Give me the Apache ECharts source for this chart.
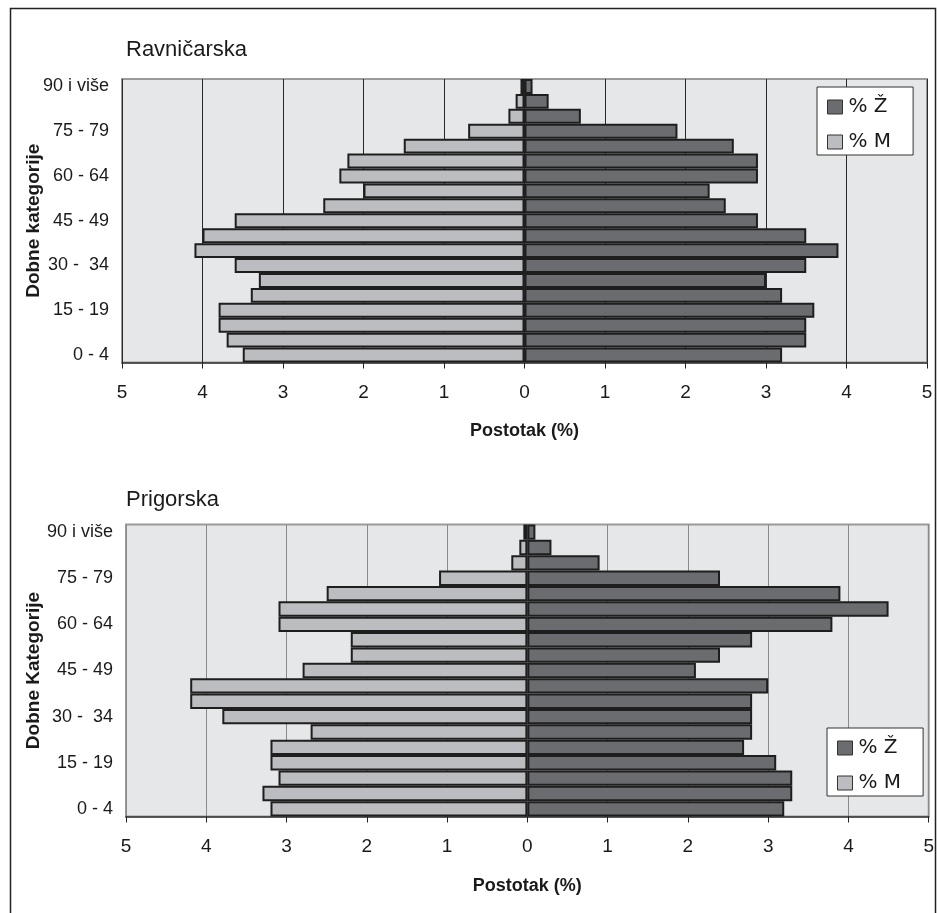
<!DOCTYPE html>
<html>
<head>
<meta charset="utf-8">
<script src="https://cdn.jsdelivr.net/npm/echarts@6/dist/echarts.min.js"></script>
<style>
html,body{margin:0;padding:0;background:#fff;}
#chart{width:937px;height:913px;}
</style>
</head>
<body>
<div id="chart"></div>
<script>
const categories = ["0 - 4","5 - 9","10 - 14","15 - 19","20 - 24","25 - 29","30 -  34","35 - 39","40 - 44","45 - 49","50 - 54","55 - 59","60 - 64","65 - 69","70 - 74","75 - 79","80 - 84","85 - 89","90 i više"];
const xTicks = [5,4,3,2,1,0,1,2,3,4,5];

// Ravničarska
const ravMen   = [3.5,3.7,3.8,3.8,3.4,3.3,3.6,4.1,4.0,3.6,2.5,2.0,2.3,2.2,1.5,0.7,0.2,0.11,0.05];
const ravWomen = [3.2,3.5,3.5,3.6,3.2,3.0,3.5,3.9,3.5,2.9,2.5,2.3,2.9,2.9,2.6,1.9,0.7,0.3,0.1];
// Prigorska
const priMen   = [3.2,3.3,3.1,3.2,3.2,2.7,3.8,4.2,4.2,2.8,2.2,2.2,3.1,3.1,2.5,1.1,0.2,0.1,0.05];
const priWomen = [3.2,3.3,3.3,3.1,2.7,2.8,2.8,2.8,3.0,2.1,2.4,2.8,3.8,4.5,3.9,2.4,0.9,0.3,0.1];

const titles = ["Ravničarska","Prigorska"];
const yNames = ["Dobne kategorije","Dobne Kategorije"];
const xName = "Postotak (%)";
const seriesNames = ["% Ž","% M"];

const FONT = "'Liberation Sans Narrow','Arial Narrow','Liberation Sans',Arial,sans-serif";
const COL_M = '#bcbdc0', COL_Z = '#6b6c6f', BORDER = '#1e1e1e';

const grids = [
  {left:122, width:402.5*2, top:79, height:283.5},
  {left:126, width:401.5*2, top:524.5, height:292}
];
const gridColors = ['#2a2a2a','#8a8a8a'];

const chart = echarts.init(document.getElementById('chart'), null, {renderer:'canvas'});

function xAxis(i){
  return {
    type:'value', gridIndex:i, min:-5, max:5, interval:1,
    name:xName, nameLocation:'middle', nameGap: i===0?60:61,
    nameTextStyle:{fontFamily:FONT, fontWeight:'bold', fontSize:18, color:'#1a1a1a'},
    axisLine:{show:true, onZero:false, lineStyle:{color:'#333', width:1.5}},
    axisTick:{show:true, length:6, lineStyle:{color:'#222', width:1}},
    axisLabel:{fontFamily:FONT, fontSize:19, color:'#1a1a1a', margin:21,
      formatter:v=>String(Math.abs(v))},
    splitLine:{show:true, lineStyle:{color:gridColors[i], width:1}}
  };
}
function yAxis(i){
  return {
    type:'category', gridIndex:i, data:categories,
    name:yNames[i], nameLocation:'middle', nameGap: i===0?79:83, nameRotate:90,
    nameMoveOverlap:false,
    nameTextStyle:{fontFamily:FONT, fontWeight:'bold', fontSize:19, color:'#1a1a1a'},
    axisLine:{show:false}, axisTick:{show:false},
    axisLabel:{interval:2, fontFamily:FONT, fontSize:18, color:'#1a1a1a', margin:13, padding:[4,0,0,0]},
    splitLine:{show:false}
  };
}
function barSeries(name, data, i, color, neg){
  return {
    type:'bar', name:name, xAxisIndex:i, yAxisIndex:i,
    data:data.map(v=>neg?-v:v),
    barGap:'-100%', barCategoryGap:'0%',
    itemStyle:{color:color, borderColor:BORDER, borderWidth:2},
    emphasis:{disabled:true}, silent:true
  };
}
function legend(i, left, top){
  return {
    data:seriesNames.map(n=>({name:n, icon:'rect'})), orient:'vertical', left:left, top:top,
    backgroundColor:'#fff', borderColor:'#333', borderWidth:1,
    padding:[10,22,3,10], itemGap:15, itemWidth:15, itemHeight:14,
    itemStyle:{borderColor:'#333', borderWidth:1},
    textStyle:{fontFamily:"'DejaVu Sans',Verdana,sans-serif", fontSize:20, color:'#1a1a1a', padding:[0,0,0,1]},
    selectedMode:false
  };
}

chart.setOption({
  animation:false,
  backgroundColor:'#fff',
  title:[
    {text:titles[0], left:121, top:34, textStyle:{fontFamily:FONT, fontWeight:'normal', fontSize:22, color:'#1a1a1a'}},
    {text:titles[1], left:121, top:484, textStyle:{fontFamily:FONT, fontWeight:'normal', fontSize:22, color:'#1a1a1a'}}
  ],
  legend:[legend(0, 817, 87), legend(1, 827, 728)],
  grid:grids.map(g=>Object.assign({show:true, backgroundColor:'#e6e7e9', borderColor:'#9a9a9a', borderWidth:2}, g)),
  xAxis:[xAxis(0), xAxis(1)],
  yAxis:[yAxis(0), yAxis(1)],
  series:[
    barSeries(seriesNames[1], ravMen, 0, COL_M, true),
    barSeries(seriesNames[0], ravWomen, 0, COL_Z, false),
    barSeries(seriesNames[1], priMen, 1, COL_M, true),
    barSeries(seriesNames[0], priWomen, 1, COL_Z, false)
  ],
  graphic:[
    {type:'rect', shape:{x:10.5, y:8.5, width:925, height:930}, style:{fill:null, stroke:'#222', lineWidth:1.5}, silent:true}
  ]
});
</script>
</body>
</html>
